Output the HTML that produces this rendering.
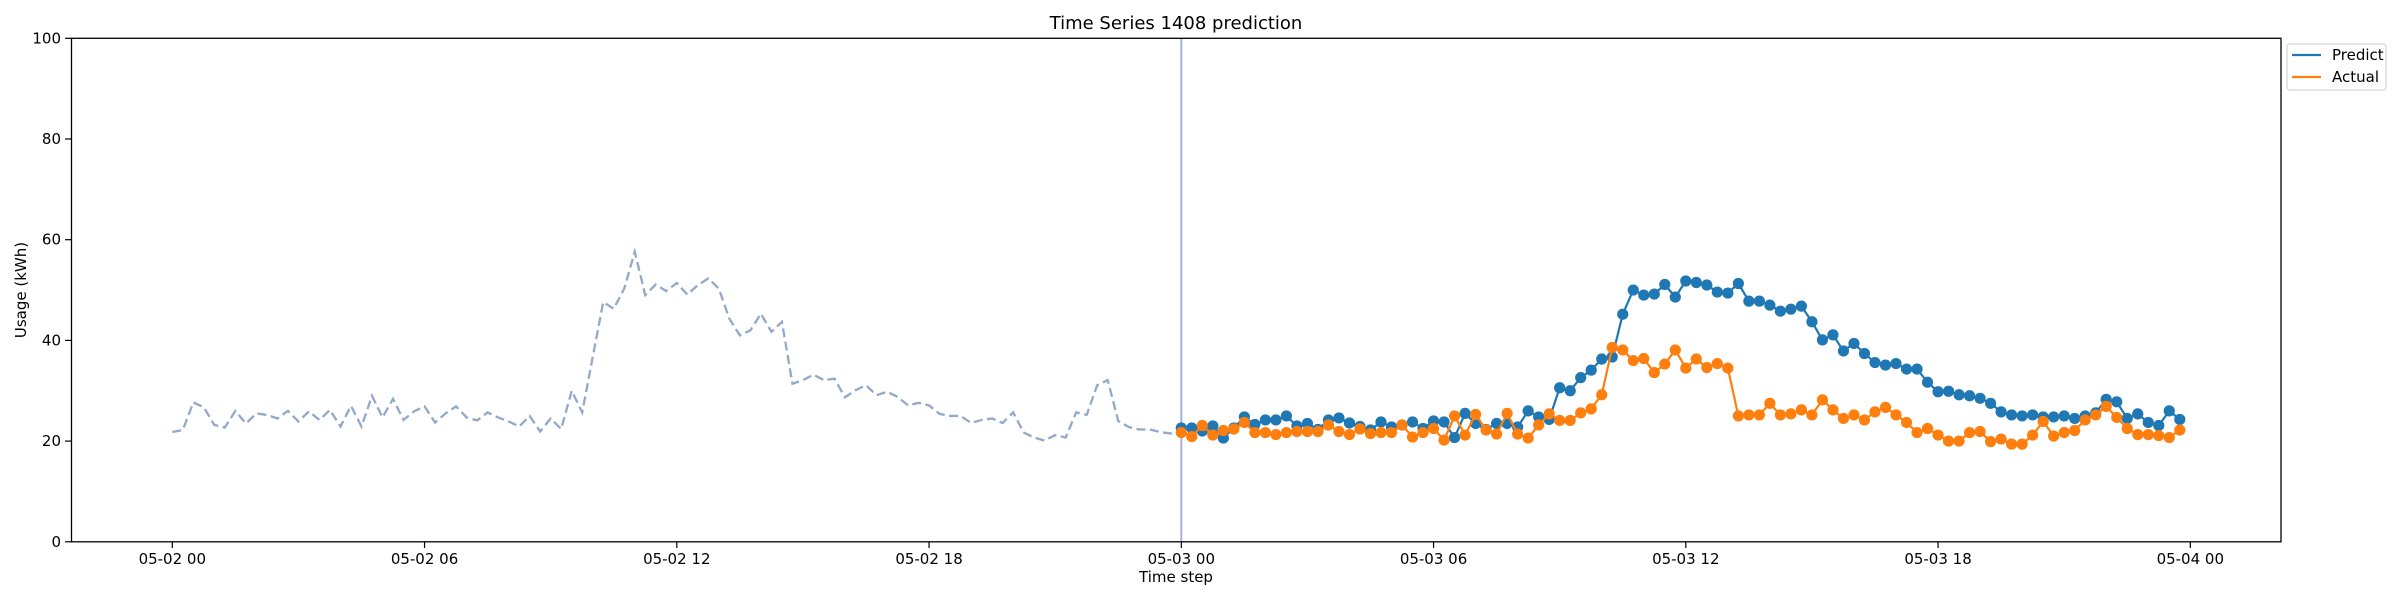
<!DOCTYPE html>
<html><head><meta charset="utf-8"><style>
body{margin:0;background:#fff;}
svg{display:block;font-family:"DejaVu Sans","Liberation Sans",sans-serif;}
</style></head><body>
<svg id="chart" width="2400" height="600" viewBox="0 0 2400 600" xmlns="http://www.w3.org/2000/svg">
<rect x="0" y="0" width="2400" height="600" fill="#fff"/>
<text x="1176" y="29" text-anchor="middle" font-size="18">Time Series 1408 prediction</text>
<g id="grid"></g>
<g id="marks"></g>
<rect x="71.5" y="38.3" width="2209.5" height="503.5" fill="none" stroke="#000" stroke-width="1.3"/>
<text x="1176" y="582" text-anchor="middle" font-size="15">Time step</text>
<text transform="translate(26,290) rotate(-90)" text-anchor="middle" font-size="15">Usage (kWh)</text>
<g>
<rect x="2287" y="44" width="99" height="46" rx="3" fill="#fff" stroke="#d8d8d8" stroke-width="1.3"/>
<line x1="2292" y1="55" x2="2321" y2="55" stroke="#1f77b4" stroke-width="2.2"/>
<text x="2332" y="60" font-size="15">Predict</text>
<line x1="2292" y1="77" x2="2321" y2="77" stroke="#ff7f0e" stroke-width="2.2"/>
<text x="2332" y="82" font-size="15">Actual</text>
</g>
</svg>
<script>
const yTicks=[0,20,40,60,80,100];
const xTickLabels=["05-02 00","05-02 06","05-02 12","05-02 18","05-03 00","05-03 06","05-03 12","05-03 18","05-04 00"];
const xTickSteps=[0,24,48,72,96,120,144,168,192];
const history=[21.8,22.2,27.7,26.7,23.2,22.7,26.0,23.5,25.5,25.2,24.5,26.0,23.9,25.9,24.2,26.2,22.9,27.0,22.9,29.0,24.7,28.4,24.2,25.9,26.9,23.7,25.5,26.9,24.7,24.1,25.7,24.7,23.9,22.9,25.0,21.9,24.5,22.4,30.0,25.7,36.7,47.6,46.3,50.3,57.6,49.0,51.1,49.8,51.4,49.1,51.0,52.3,50.3,44.3,41.0,42.0,45.3,41.7,43.7,31.4,32.1,33.2,32.1,32.4,28.7,30.1,31.1,29.1,29.8,28.8,27.1,27.6,27.1,25.4,25.0,25.0,23.6,24.2,24.5,23.6,25.7,21.7,20.7,20.1,21.2,20.7,25.7,25.2,31.1,32.1,24.0,22.8,22.3,22.3,21.8,21.5];
const predict=[22.6,22.6,22.0,23.0,20.6,22.6,24.8,23.3,24.2,24.2,25.0,23.0,23.5,22.3,24.2,24.6,23.6,22.9,22.2,23.8,22.8,23.2,23.8,22.5,24.0,23.8,20.7,25.5,23.5,22.3,23.5,23.5,22.8,26.0,24.8,24.3,30.6,30.0,32.6,34.1,36.3,36.7,45.2,50.0,49.0,49.2,51.1,48.6,51.8,51.5,51.0,49.6,49.4,51.3,47.8,47.8,47.0,45.8,46.2,46.8,43.7,40.1,41.1,37.9,39.4,37.4,35.6,35.1,35.4,34.3,34.3,31.7,29.8,29.9,29.2,29.0,28.5,27.5,25.8,25.2,25.0,25.2,24.8,24.8,25.0,24.5,25.0,25.6,28.3,27.8,24.5,25.4,23.7,23.1,26.0,24.3];
const actual=[21.7,20.9,23.1,21.2,22.1,22.4,23.7,21.7,21.7,21.3,21.7,21.9,21.9,21.9,23.2,21.9,21.3,22.4,21.5,21.7,21.7,23.2,20.8,21.7,22.5,20.2,25.0,21.2,25.3,22.2,21.4,25.5,21.4,20.6,23.2,25.4,24.1,24.1,25.6,26.4,29.2,38.6,38.1,36.0,36.4,33.6,35.3,38.1,34.5,36.3,34.6,35.4,34.5,25.0,25.2,25.2,27.5,25.2,25.4,26.2,25.2,28.2,26.2,24.5,25.2,24.2,25.8,26.7,25.2,23.7,21.7,22.5,21.2,20.0,20.0,21.7,21.9,19.9,20.4,19.4,19.4,21.2,23.9,21.0,21.7,22.1,24.2,25.2,26.9,24.7,22.5,21.3,21.3,21.1,20.7,22.2];
const forecastStart=96;
const NS="http://www.w3.org/2000/svg";
function xs(t){return 172.3+t*(1009/96);}
function ys(v){return 541.8-v*5.035;}
function mk(tag,attrs,parent){const e=document.createElementNS(NS,tag);for(const k in attrs)e.setAttribute(k,attrs[k]);parent.appendChild(e);return e;}
const grid=document.getElementById('grid'),marks=document.getElementById('marks');
yTicks.forEach(v=>{
  const l=mk('line',{x1:65,x2:71.5,y1:ys(v),y2:ys(v),stroke:'#000','stroke-width':1.2},grid);
  
  
  const t=mk('text',{x:61,y:ys(v)+5,'text-anchor':'end','font-size':15},grid);
  t.textContent=v;
  
  
});
xTickLabels.forEach((lab,i)=>{
  const x=xs(xTickSteps[i]);
  const l=mk('line',{x1:x,x2:x,y1:541.8,y2:548,stroke:'#000','stroke-width':1.2},grid);
  
  
  const t=mk('text',{x:x,y:564,'text-anchor':'middle','font-size':15},grid);
  t.textContent=lab;
  
  
});
let hp=history.map((v,i)=>(i?'L':'M')+xs(i)+','+ys(v)).join(' ')+' L'+xs(forecastStart)+','+ys(actual[0]);
const h=mk('path',{d:hp,fill:'none',stroke:'#92a9c9','stroke-width':2.3,'stroke-dasharray':'9,4.5'},marks);


const vl=mk('line',{x1:xs(forecastStart),x2:xs(forecastStart),y1:38.3,y2:541.8,stroke:'#a7b3d6','stroke-width':2},marks);


function series(arr,color,name){
  const d=arr.map((v,i)=>(i?'L':'M')+xs(forecastStart+i)+','+ys(v)).join(' ');
  const p=mk('path',{d:d,fill:'none',stroke:color,'stroke-width':2.2},marks);
  
  
  arr.forEach((v,i)=>{
    const c=mk('circle',{cx:xs(forecastStart+i),cy:ys(v),r:5.6,fill:color},marks);
    
    
  });
}
series(predict,'#1f77b4','predict');
series(actual,'#ff7f0e','actual');
</script>
</body></html>
